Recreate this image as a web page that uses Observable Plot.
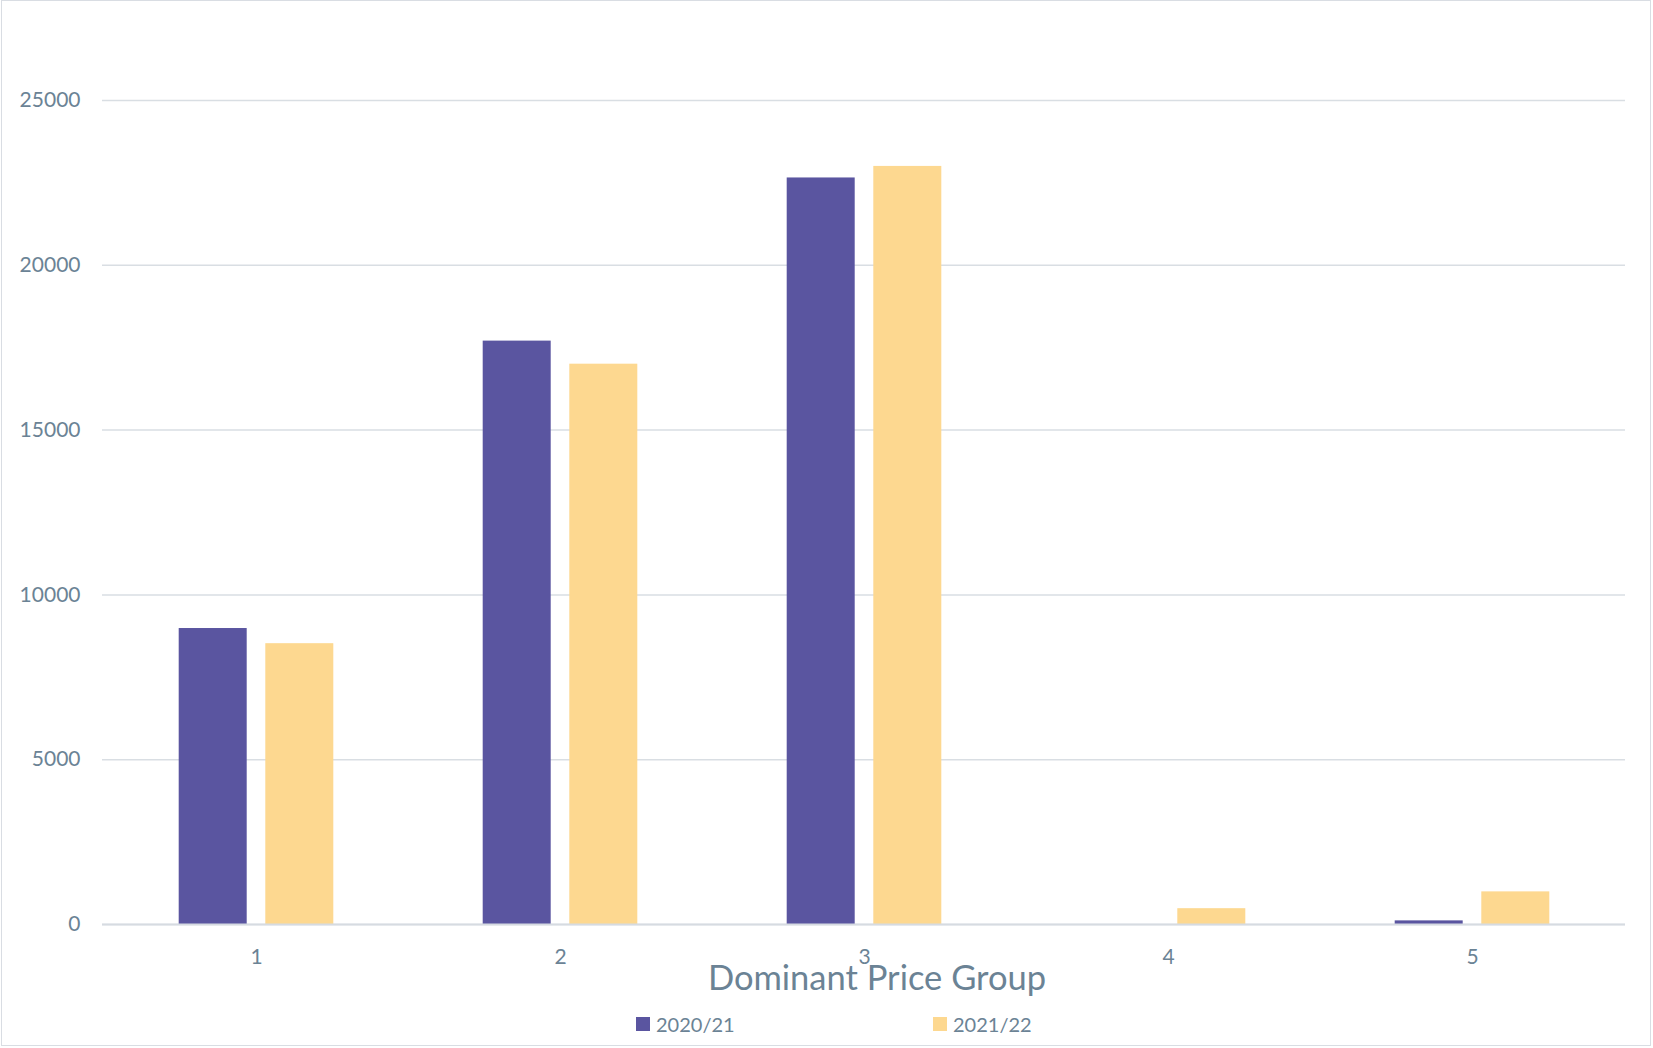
<!DOCTYPE html>
<html>
<head>
<meta charset="utf-8">
<script src="https://cdn.jsdelivr.net/npm/d3@7"></script>
<script src="https://cdn.jsdelivr.net/npm/@observablehq/plot@0.6"></script>
<style>
  html, body { margin: 0; padding: 0; background: #fff; }
  #wrap { position: relative; width: 1653px; height: 1048px; overflow: hidden; font-family: Lato, "Open Sans", sans-serif; color: #6b8395; }
  #frame { position: absolute; left: 1px; top: 0px; width: 1650px; height: 1046px; border: 1.5px solid #d9dde3; box-sizing: border-box; }
  #chart { position: absolute; left: 0; top: 0; }
  #xtitle { position: absolute; left: 0; width: 1754px; top: 956px; text-align: center; font-size: 34.5px; line-height: 42px; white-space: nowrap; }
  .leg { position: absolute; top: 1010px; font-size: 20px; line-height: 28px; display: flex; align-items: center; white-space: nowrap; }
  .sw { width: 14px; height: 14px; margin-right: 6px; display: inline-block; }
</style>
</head>
<body>
<div id="wrap">
  <div id="frame"></div>
  <div id="chart"></div>
  <div id="xtitle">Dominant Price Group</div>
  <div class="leg" style="left:636px"><span class="sw" style="background:#5a55a0"></span>2020/21</div>
  <div class="leg" style="left:933px"><span class="sw" style="background:#fdd890"></span>2021/22</div>
</div>
<script>
const groups = ["1", "2", "3", "4", "5"];
const series = ["2020/21", "2021/22"];
const values2021 = [8980, 17700, 22650, 0, 110];
const values2122 = [8520, 17000, 23000, 480, 990];
const yTicks = [0, 5000, 10000, 15000, 20000, 25000];
const colors = ["#5a55a0", "#fdd890"];

const rowsA = groups.map((g, i) => ({group: g, series: series[0], value: values2021[i]}));
const rowsB = groups.map((g, i) => ({group: g, series: series[1], value: values2122[i]}));

const chart = Plot.plot({
  width: 1653,
  height: 970,
  marginLeft: 102,
  marginRight: 28,
  marginTop: 100,
  marginBottom: 46,
  style: {background: "transparent", color: "#6b8395", fontFamily: "Lato, 'Open Sans', sans-serif"},
  x: {domain: groups, paddingInner: 0.7766, paddingOuter: 0.3883, label: null},
  y: {domain: [0, 25000], label: null},
  color: {domain: series, range: colors},
  marks: [
    Plot.gridY(yTicks, {stroke: "#d9dee3", strokeOpacity: 1, strokeWidth: 1.5}),
    Plot.barY(rowsA, {x: "group", y: "value", fill: "series", dx: -43.3}),
    Plot.barY(rowsB, {x: "group", y: "value", fill: "series", dx: 43.3}),
    Plot.ruleY([0], {stroke: "#d6dbe1", strokeWidth: 2}),
    Plot.axisY({ticks: yTicks, tickSize: 0, tickPadding: 22, fontSize: 21, tickFormat: d3.format("d"), label: null}),
    Plot.axisX({tickSize: 0, tickPadding: 25, fontSize: 21, label: null})
  ]
});
document.getElementById("chart").appendChild(chart);
</script>
</body>
</html>
